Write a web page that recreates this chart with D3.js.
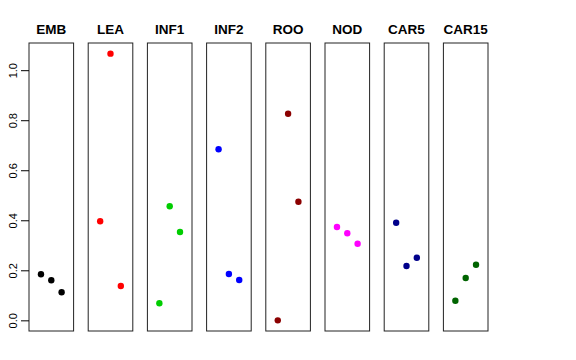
<!DOCTYPE html>
<html><head><meta charset="utf-8">
<script src="https://cdn.jsdelivr.net/npm/d3@7"></script>
<style>body{margin:0;background:#fff}svg{display:block}</style>
</head><body>
<svg id="c" width="576" height="360"></svg>
<script>
const categories = ["EMB","LEA","INF1","INF2","ROO","NOD","CAR5","CAR15"];
const colors = ["#000000","#FF0000","#00CD00","#0000FF","#8B0000","#FF00FF","#00008B","#006400"];
const positions = [1,2,3];
const EMB = [0.184,0.160,0.112];
const LEA = [0.396,1.066,0.137];
const INF1 = [0.068,0.456,0.353];
const INF2 = [0.684,0.185,0.161];
const ROO = [0.000,0.826,0.474];
const NOD = [0.373,0.348,0.306];
const CAR5 = [0.390,0.217,0.250];
const CAR15 = [0.078,0.169,0.222];
const series = [EMB,LEA,INF1,INF2,ROO,NOD,CAR5,CAR15];
const yTicks = [0.0,0.2,0.4,0.6,0.8,1.0];

(function(){
const svg = d3.select("#c");
const pTop = 43, pBottom = 331, firstLeft = 29, step = 59.2, pw = 44.6;
const all = series.flat();
const lo = d3.min(all), hi = d3.max(all), pad = (hi - lo) * 0.04;
const y = d3.scaleLinear().domain([lo - pad, hi + pad]).range([pBottom, pTop]);
const x = d3.scaleLinear().domain([-0.16, 4.16]).range([0, pw]);

categories.forEach((cat, i) => {
  const g = svg.append("g").attr("transform", `translate(${firstLeft + i*step},0)`);
  g.append("rect").attr("x", 0).attr("y", pTop).attr("width", pw).attr("height", pBottom - pTop)
    .attr("fill", "none").attr("stroke", "#222").attr("stroke-width", 1);
  g.append("text").attr("x", pw/2).attr("y", 34).attr("text-anchor", "middle")
    .attr("font-family", "Liberation Sans, Arial, sans-serif").attr("font-weight", "bold")
    .attr("font-size", 13.5).text(cat);
  g.selectAll("circle").data(series[i]).enter().append("circle")
    .attr("cx", (d, j) => x(positions[j])).attr("cy", d => y(d)).attr("r", 3.2)
    .attr("fill", colors[i]);
});

const axis = d3.axisLeft(y).tickValues(yTicks).tickFormat(d3.format(".1f")).tickSize(8).tickPadding(0);
const ag = svg.append("g").attr("transform", `translate(${firstLeft},0)`).call(axis);
ag.select(".domain").remove();
ag.selectAll(".tick line").attr("stroke", "#000");
ag.selectAll(".tick text").attr("font-family", "Liberation Sans, Arial, sans-serif").attr("font-size", 11)
  .attr("fill", "#000")
  .attr("transform", "translate(-16,0) rotate(-90)").attr("x", 0).attr("dy", "0.35em")
  .attr("text-anchor", "middle");
})();
</script>
</body></html>
